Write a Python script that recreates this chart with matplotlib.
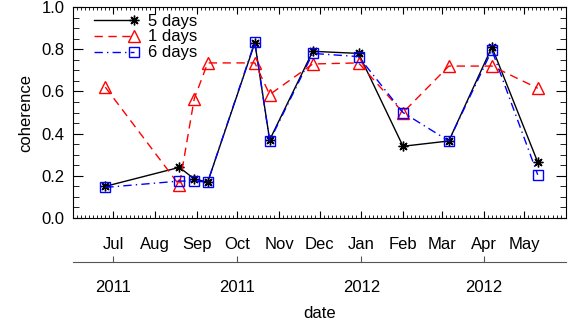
import numpy as np
import matplotlib
matplotlib.use("Agg")
import matplotlib.pyplot as plt
import matplotlib.dates as mdates
from matplotlib.ticker import MultipleLocator
from matplotlib.legend_handler import HandlerLine2D
from datetime import date

plt.rcParams['font.family'] = ['Liberation Sans', 'DejaVu Sans']
plt.rcParams['font.size'] = 12

dates = [date(2011, 6, 25), date(2011, 8, 19), date(2011, 8, 30), date(2011, 9, 9),
         date(2011, 10, 14), date(2011, 10, 25), date(2011, 11, 26), date(2011, 12, 30),
         date(2012, 2, 1), date(2012, 3, 6), date(2012, 4, 7), date(2012, 5, 11)]

coh_5 = [0.15, 0.24, 0.185, 0.17, 0.83, 0.37, 0.79, 0.78, 0.34, 0.365, 0.81, 0.265]
coh_1 = [0.62, 0.155, 0.565, 0.735, 0.735, 0.585, 0.73, 0.735, 0.50, 0.72, 0.72, 0.615]
coh_6 = [0.145, 0.175, 0.175, 0.17, 0.835, 0.365, 0.78, 0.765, 0.50, 0.365, 0.795, 0.205]

month_ticks = [date(2011, m, 1) for m in range(7, 13)] + [date(2012, m, 1) for m in range(1, 6)]
year_ticks = [date(2011, 7, 1), date(2011, 10, 1), date(2012, 1, 1), date(2012, 4, 1)]
year_labels = ['2011', '2011', '2012', '2012']


class EndMarker(HandlerLine2D):
    # IDL style legend: line, then marker at its right end
    def create_artists(self, *args, **kwargs):
        arts = super().create_artists(*args, **kwargs)
        arts[0].set_markevery([2])
        return arts


fig = plt.figure(figsize=(5.72, 3.2), dpi=100)
ax = fig.add_axes([73/572, 1 - 218/320, (566-73)/572, (218-7)/320])

asterisk = (8, 2, 0)
l5, = ax.plot(dates, coh_5, color='black', lw=1, marker=asterisk, ms=7, mew=1,
              label='5 days')
l1, = ax.plot(dates, coh_1, color='red', lw=1, ls=(0, (6, 4)), marker='^', ms=8,
              mfc='none', mew=1, label='1 days')
l6, = ax.plot(dates, coh_6, color='blue', lw=1, ls=(0, (6, 3, 1, 3)), marker='s', ms=7,
              mfc='none', mew=1, label='6 days')

ax.set_xlim(date(2011, 6, 1), date(2012, 6, 1))
ax.set_ylim(0, 1.0)
ax.set_xticks([mdates.date2num(d) for d in month_ticks])
ax.xaxis.set_major_formatter(mdates.DateFormatter('%b'))
ax.xaxis.set_minor_locator(mdates.DayLocator(bymonthday=[4, 7, 10, 13, 16, 19, 22, 25, 28]))
ax.yaxis.set_major_locator(MultipleLocator(0.2))
ax.yaxis.set_minor_locator(MultipleLocator(0.05))
ax.yaxis.set_major_formatter(plt.FormatStrFormatter('%.1f'))

ax.tick_params(which='both', direction='in', top=True, right=True)
ax.tick_params(axis='x', which='major', length=5, pad=14)
ax.tick_params(axis='x', which='minor', length=2)
ax.tick_params(axis='y', which='major', length=7, pad=6)
ax.tick_params(axis='y', which='minor', length=4)
ax.set_ylabel('coherence', labelpad=6)

ax.legend(handles=[l5, l1, l6], loc='upper left', frameon=False, numpoints=1,
          handlelength=2.4, handletextpad=0.8, labelspacing=0.05, borderaxespad=0.0,
          fontsize=12, bbox_to_anchor=(0.03, 1.0),
          handler_map={l5: EndMarker(), l1: EndMarker(), l6: EndMarker()})

# year axis below
ax2 = fig.add_axes([73/572, 1 - 262/320, (566-73)/572, 0.0001])
ax2.set_xlim(ax.get_xlim())
for s in ['top', 'left', 'right']:
    ax2.spines[s].set_visible(False)
ax2.spines['bottom'].set_color('#555555')
ax2.set_yticks([])
ax2.set_xticks([mdates.date2num(d) for d in year_ticks])
ax2.set_xticklabels(year_labels)
ax2.tick_params(axis='x', direction='in', length=4, pad=13, color='#555555')
ax2.set_xlabel('date', labelpad=8)

fig.savefig('out.png', dpi=100)
